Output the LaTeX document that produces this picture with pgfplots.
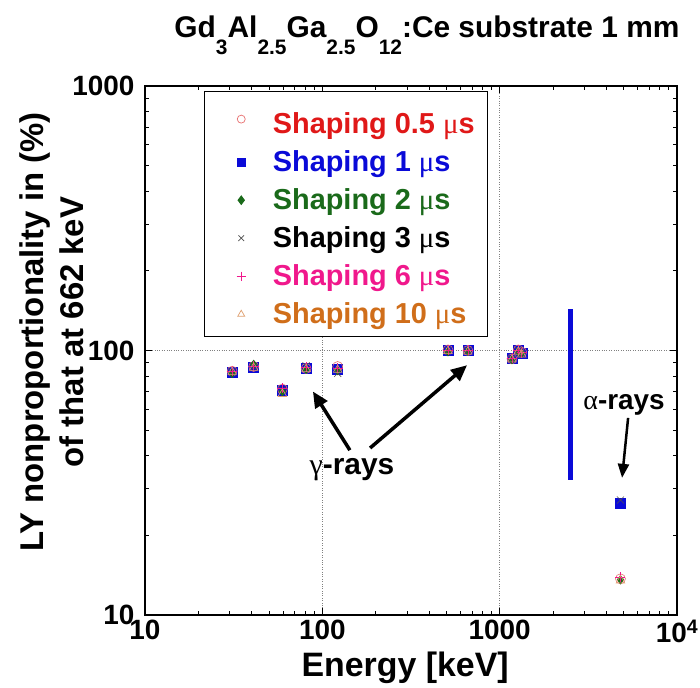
\documentclass[border=0pt]{standalone}
\usepackage{pgfplots}
\pgfplotsset{compat=1.18}
\usepackage{fontspec}
\setmainfont{Liberation Sans}
\newfontfamily\symf{Liberation Serif}
\usetikzlibrary{arrows.meta}
\definecolor{cRed}{HTML}{E01818}
\definecolor{cRedM}{HTML}{E87070}
\definecolor{cBlue}{HTML}{0A0AD8}
\definecolor{cGreen}{HTML}{1A6A1A}
\definecolor{cGray}{HTML}{505050}
\definecolor{cPink}{HTML}{F0188C}
\definecolor{cOrange}{HTML}{D06E1A}
\definecolor{cOrangeM}{HTML}{E0A070}
\newcommand{\mus}{{\symf\mdseries μ}s}
\newcommand{\sub}[1]{\raisebox{-0.55em}{\fontsize{21}{21}\selectfont #1}}
\pgfplotsset{lgimg/.style={legend image code/.code={\path (-26bp,0bp) (28bp,0bp); \draw[##1] plot coordinates {(0bp,0bp)};}}}
\begin{document}
\begin{tikzpicture}
\begin{axis}[
  scale only axis, width=532bp, height=529bp,
  xmode=log, ymode=log, xmin=10, xmax=10000, ymin=10, ymax=1000,
  axis line style={line width=2.2pt},
  tick style={line width=0.8pt, black},
  major tick length=7bp, minor tick length=4bp,
  tick align=inside,
  xtick={10,100,1000,10000}, xticklabels={10,100,1000,10\textsuperscript{4}},
  ytick={10,100,1000}, yticklabels={10,100,1000},
  ticklabel style={font=\bfseries\fontsize{28}{28}\selectfont},
  yticklabel style={xshift=-7bp},
  xticklabel style={yshift=-2bp},
  xmajorgrids, ymajorgrids,
  major grid style={dotted, gray, line width=0.8pt},
  xlabel={Energy [keV]},
  xlabel style={font=\bfseries\fontsize{34}{34}\selectfont, at={(axis description cs:0.489,-0.1)}, anchor=center},
  ylabel={LY nonproportionality in (\%)\\of that at 662 keV},
  ylabel style={font=\bfseries\fontsize{33}{40}\selectfont, align=center, at={(axis description cs:-0.175,0.535)}, anchor=center},
  title={Gd\sub{3}Al\sub{2.5}Ga\sub{2.5}O\sub{12}:Ce substrate 1 mm},
  title style={font=\bfseries\fontsize{30}{30}\selectfont, at={(axis description cs:0.53,1.0)}, anchor=south, yshift=22bp},
  legend cell align=left,
  legend style={at={(axis description cs:0.111,0.99)}, anchor=north west, draw=black, line width=1.2pt,
    font=\bfseries\fontsize{29}{29}\selectfont, row sep=11.6bp, inner xsep=10bp, inner ysep=9bp,
    nodes={inner xsep=3bp}},
]
\addlegendimage{only marks, mark=o, mark size=4bp, color=cRedM, line width=0.7pt, lgimg}
\addlegendentry{\raisebox{0pt}[31bp][0pt]{}\textcolor{cRed}{Shaping 0.5 \mus}}
\addlegendimage{only marks, mark=square*, mark size=4bp, color=cBlue, fill=cBlue, lgimg}
\addlegendentry{\textcolor{cBlue}{Shaping 1 \mus}}
\addlegendimage{only marks, mark=diamond*, mark size=4bp, color=cGreen, fill=cGreen, lgimg}
\addlegendentry{\textcolor{cGreen}{Shaping 2 \mus}}
\addlegendimage{only marks, mark=x, mark size=4bp, color=cGray, line width=0.7pt, lgimg}
\addlegendentry{\textcolor{black}{Shaping 3 \mus}}
\addlegendimage{only marks, mark=+, mark size=4.5bp, color=cPink, line width=1.1pt, lgimg}
\addlegendentry{\textcolor{cPink}{Shaping 6 \mus}}
\addlegendimage{only marks, mark=triangle, mark size=4bp, color=cOrangeM, line width=0.7pt, lgimg}
\addlegendentry{\textcolor{cOrange}{Shaping 10 \mus}}

% alpha bar
\addplot[forget plot, cBlue, line width=5bp] coordinates {(2500,32.5) (2500,143)};

% 1 us
\addplot[forget plot, only marks, mark=square*, mark size=5bp, draw=cBlue, fill=cBlue] coordinates {
(31,83) (41,86.5) (59.5,71) (81,86) (122,85) (511,100) (662,100) (1173,93.5) (1274,100) (1332,98) (4800,26.5)};
% 0.5 us
\addplot[forget plot, only marks, mark=o, mark size=5bp, draw=cRedM, line width=0.6pt] coordinates {
(31,83.5) (41,87) (59.5,71.5) (81,85.5) (122,87) (511,100.5) (662,100) (1173,93) (1274,100.5) (1332,98.5) (4800,13.7)};
% 2 us
\addplot[forget plot, only marks, mark=diamond*, mark size=4.5bp, draw=cGreen, fill=cGreen] coordinates {
(31,82) (41,88.5) (59.5,70) (81,85) (122,84) (511,99) (662,99.5) (1173,92.5) (1274,99) (1332,97.5) (4800,13.6)};
% 3 us
\addplot[forget plot, only marks, mark=x, mark size=5bp, draw=cGray, line width=0.6pt] coordinates {
(31,83) (41,86.5) (59.5,71) (81,87.5) (122,82) (511,100) (662,100) (1173,93) (1274,100) (1332,97) (4800,27.2)};
% 6 us
\addplot[forget plot, only marks, mark=+, mark size=5bp, draw=cPink, line width=0.8pt] coordinates {
(31,83.5) (41,87) (59.5,72) (81,86.5) (122,85.5) (511,100) (662,100.5) (1173,93.5) (1274,100) (1332,98) (4800,13.9)};
% 10 us
\addplot[forget plot, only marks, mark=triangle, mark size=5bp, draw=cOrangeM, line width=0.6pt] coordinates {
(31,83) (41,86) (59.5,68.5) (81,85) (122,84.5) (511,99.5) (662,99) (1173,92.5) (1274,99) (1332,96.5) (4800,13.5)};

% annotations
\node[font=\bfseries\fontsize{30}{30}\selectfont] at (axis cs:147,35.3) {{\symf\mdseries γ}-rays};
\draw[line width=3.5bp, -{Triangle[length=16bp, width=14bp]}] (axis cs:143,42) -- (axis cs:88.5,70);
\draw[line width=3.5bp, -{Triangle[length=16bp, width=14bp]}] (axis cs:186,42.8) -- (axis cs:655,88);
\node[font=\bfseries\fontsize{28}{28}\selectfont] at (axis cs:5030,62.2) {{\symf\mdseries α}-rays};
\draw[line width=2.5bp, -{Triangle[length=14bp, width=11bp]}] (axis cs:5300,55.6) -- (axis cs:4900,33);
\coordinate (ll) at (rel axis cs:0,0);
\end{axis}
\pgfresetboundingbox
\path (ll) ++(-145bp,-73bp) rectangle ++(700bp,688bp);
\end{tikzpicture}
\end{document}
